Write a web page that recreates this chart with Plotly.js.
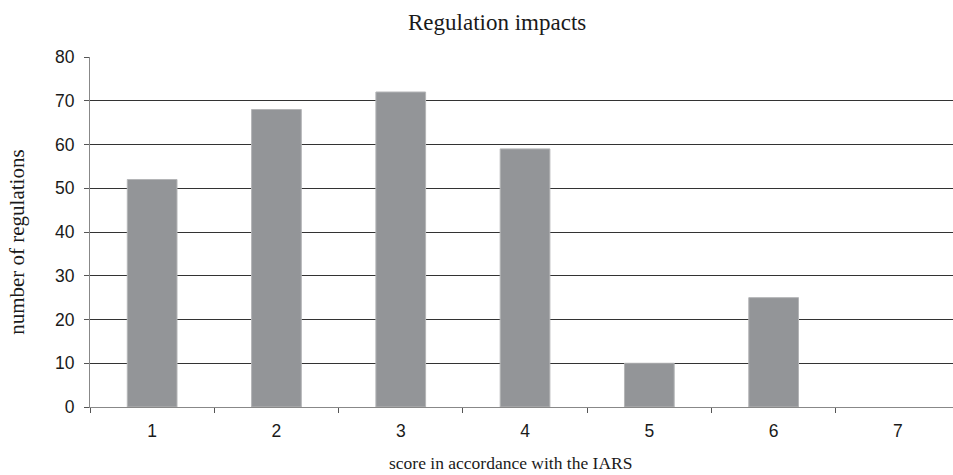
<!DOCTYPE html>
<html>
<head>
<meta charset="utf-8">
<script src="https://cdn.plot.ly/plotly-3.0.1.min.js"></script>
<style>html,body{margin:0;padding:0;background:#fff;overflow:hidden}</style>
</head>
<body>
<div id="chart" style="width:953px;height:475px"></div>
<script>
const categories = ["1", "2", "3", "4", "5", "6", "7"];
const regulations = [52, 68, 72, 59, 10, 25, 0];
const yTicks = [0, 10, 20, 30, 40, 50, 60, 70, 80];

const serif = "Liberation Serif, Times New Roman, serif";
const sans = "Liberation Sans, Arial, sans-serif";

const trace = {
  type: "bar",
  x: categories,
  y: regulations,
  width: 0.4,
  marker: {
    color: "#939598",
    line: { color: "#b4b5b7", width: regulations.map(v => (v > 0 ? 1 : 0)) }
  },
  hoverinfo: "x+y"
};

const layout = {
  width: 953,
  height: 475,
  margin: { l: 90, r: 0, t: 57, b: 68 },
  paper_bgcolor: "#ffffff",
  plot_bgcolor: "#ffffff",
  showlegend: false,
  font: { family: sans, size: 17.5, color: "#1a1a1a" },
  xaxis: {
    type: "category",
    range: [-0.5, 6.443],
    tickson: "boundaries",
    ticks: "outside",
    ticklen: 5,
    tickcolor: "#555",
    ticklabelstandoff: 8,
    showgrid: false,
    showline: true,
    linecolor: "#888",
    linewidth: 1,
    zeroline: false,
    tickfont: { family: sans, size: 17.5, color: "#1a1a1a" },
    fixedrange: true
  },
  yaxis: {
    range: [0, 80],
    tickvals: yTicks,
    ticks: "outside",
    ticklen: 5,
    tickcolor: "#555",
    ticklabelstandoff: 6,
    showline: true,
    linecolor: "#888",
    linewidth: 1,
    showgrid: true,
    gridcolor: "#333",
    gridwidth: 1,
    zeroline: false,
    tickfont: { family: sans, size: 17.5, color: "#1a1a1a" },
    fixedrange: true
  },
  annotations: [
    { text: "Regulation impacts", xref: "paper", yref: "paper", x: 0.472, y: 1, yshift: 35, showarrow: false,
      font: { family: serif, size: 23, color: "#1a1a1a" }, xanchor: "center", yanchor: "middle" },
    { text: "number of regulations", xref: "paper", yref: "paper", x: 0, xshift: -73, y: 0.469, showarrow: false, textangle: -90,
      font: { family: serif, size: 21, color: "#1a1a1a" }, xanchor: "center", yanchor: "middle" },
    { text: "score in accordance with the IARS", xref: "paper", yref: "paper", x: 0.487, y: 0, yshift: -56, showarrow: false,
      font: { family: serif, size: 17.5, color: "#1a1a1a" }, xanchor: "center", yanchor: "middle" }
  ]
};

Plotly.newPlot("chart", [trace], layout, { displayModeBar: false, staticPlot: true });
</script>
</body>
</html>
